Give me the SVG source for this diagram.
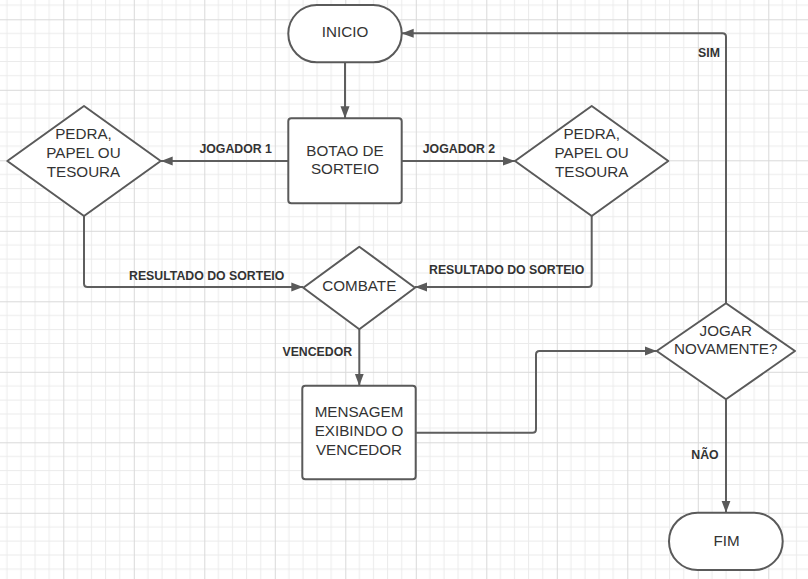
<svg xmlns="http://www.w3.org/2000/svg" width="808" height="579" viewBox="0 0 808 579">
<defs>
<pattern id="grid" patternUnits="userSpaceOnUse" x="63.3" y="19.3" width="70.5" height="70.5">
<g stroke="#ebebeb" stroke-width="1" fill="none">
<path d="M14.1 0V70.5M28.2 0V70.5M42.3 0V70.5M56.4 0V70.5M0 14.1H70.5M0 28.2H70.5M0 42.3H70.5M0 56.4H70.5"/>
</g>
<path d="M0.5 0V70.5M0 0.5H70.5" stroke="#d9d9d9" stroke-width="1" fill="none"/>
</pattern>
<marker id="arr" viewBox="0 0 12 10" refX="12" refY="5" markerWidth="12" markerHeight="10" markerUnits="userSpaceOnUse" orient="auto">
<path d="M0 0.5L12 5L0 9.5Z" fill="#5a5a5a"/>
</marker>
<style>
.node{fill:#fff;stroke:#5a5a5a;stroke-width:2;stroke-linejoin:round}
.t{font-family:"Liberation Sans",Arial,sans-serif;font-size:15.2px;fill:#333;text-anchor:middle}
.lbl{font-family:"Liberation Sans",Arial,sans-serif;font-size:12.3px;font-weight:bold;fill:#333;text-anchor:middle}
.edge{fill:none;stroke:#5e5e5e;stroke-width:2;stroke-linejoin:round}
</style>
</defs>
<rect width="808" height="579" fill="#fff"/>
<rect width="808" height="579" fill="url(#grid)"/>

<g id="connectors">
<path class="edge" d="M345 62.3V118.3" marker-end="url(#arr)"/>
<path class="edge" d="M288.3 161H160.7" marker-end="url(#arr)"/>
<path class="edge" d="M401.7 161H515" marker-end="url(#arr)"/>
<path class="edge" d="M84 216V283.5Q84 287 87.5 287H303.3" marker-end="url(#arr)"/>
<path class="edge" d="M591.7 216V283.5Q591.7 287 588.2 287H415" marker-end="url(#arr)"/>
<path class="edge" d="M359.3 329.3V385.7" marker-end="url(#arr)"/>
<path class="edge" d="M415.7 432.7H532.5Q536 432.7 536 429.2V354.5Q536 351 539.5 351H656.7" marker-end="url(#arr)"/>
<path class="edge" d="M726 303.3V36.8Q726 33.3 722.5 33.3H401.7" marker-end="url(#arr)"/>
<path class="edge" d="M726 399.3V512.7" marker-end="url(#arr)"/>
<text class="lbl" x="235.7" y="153.4">JOGADOR 1</text>
<text class="lbl" x="459" y="153.4">JOGADOR 2</text>
<text class="lbl" x="206.7" y="280.4">RESULTADO DO SORTEIO</text>
<text class="lbl" x="506.7" y="273.7">RESULTADO DO SORTEIO</text>
<text class="lbl" x="317.3" y="356.1">VENCEDOR</text>
<text class="lbl" x="709" y="57.1">SIM</text>
<text class="lbl" x="705" y="459.4">NÃO</text>
</g>

<g id="inicio">
<rect class="node" x="288.3" y="5" width="113.4" height="57.3" rx="28.6" ry="28.6"/>
<text class="t" x="345" y="37">INICIO</text>
</g>

<g id="botao">
<rect class="node" x="288.3" y="118.3" width="113.4" height="85" rx="3"/>
<text class="t" x="345" y="155.5">BOTAO DE</text>
<text class="t" x="345" y="173.8">SORTEIO</text>
</g>

<g id="escolha1">
<path class="node" d="M84 106L160.7 161L84 216L7.3 161Z"/>
<text class="t" x="83.5" y="138.8">PEDRA,</text>
<text class="t" x="83.5" y="157.8">PAPEL OU</text>
<text class="t" x="83.5" y="176.5">TESOURA</text>
</g>

<g id="escolha2">
<path class="node" d="M591.7 106L668.3 161L591.7 216L515 161Z"/>
<text class="t" x="591.7" y="138.8">PEDRA,</text>
<text class="t" x="591.7" y="158.2">PAPEL OU</text>
<text class="t" x="591.7" y="177.2">TESOURA</text>
</g>

<g id="combate">
<path class="node" d="M359.3 246.7L415 287.7L359.3 329.3L303.3 287.7Z"/>
<text class="t" x="359.3" y="290.5">COMBATE</text>
</g>

<g id="mensagem">
<rect class="node" x="302.3" y="385.7" width="113.4" height="93.6" rx="3"/>
<text class="t" x="359" y="417.2">MENSAGEM</text>
<text class="t" x="359" y="436.2">EXIBINDO O</text>
<text class="t" x="359" y="454.8">VENCEDOR</text>
</g>

<g id="jogar">
<path class="node" d="M726 303.3L795 351L726 399.3L656.7 351Z"/>
<text class="t" x="725.7" y="335.5">JOGAR</text>
<text class="t" x="725.7" y="353.8">NOVAMENTE?</text>
</g>

<g id="fim">
<rect class="node" x="669" y="512.7" width="113.7" height="57.3" rx="28.6" ry="28.6"/>
<text class="t" x="726.5" y="545.5">FIM</text>
</g>
</svg>
